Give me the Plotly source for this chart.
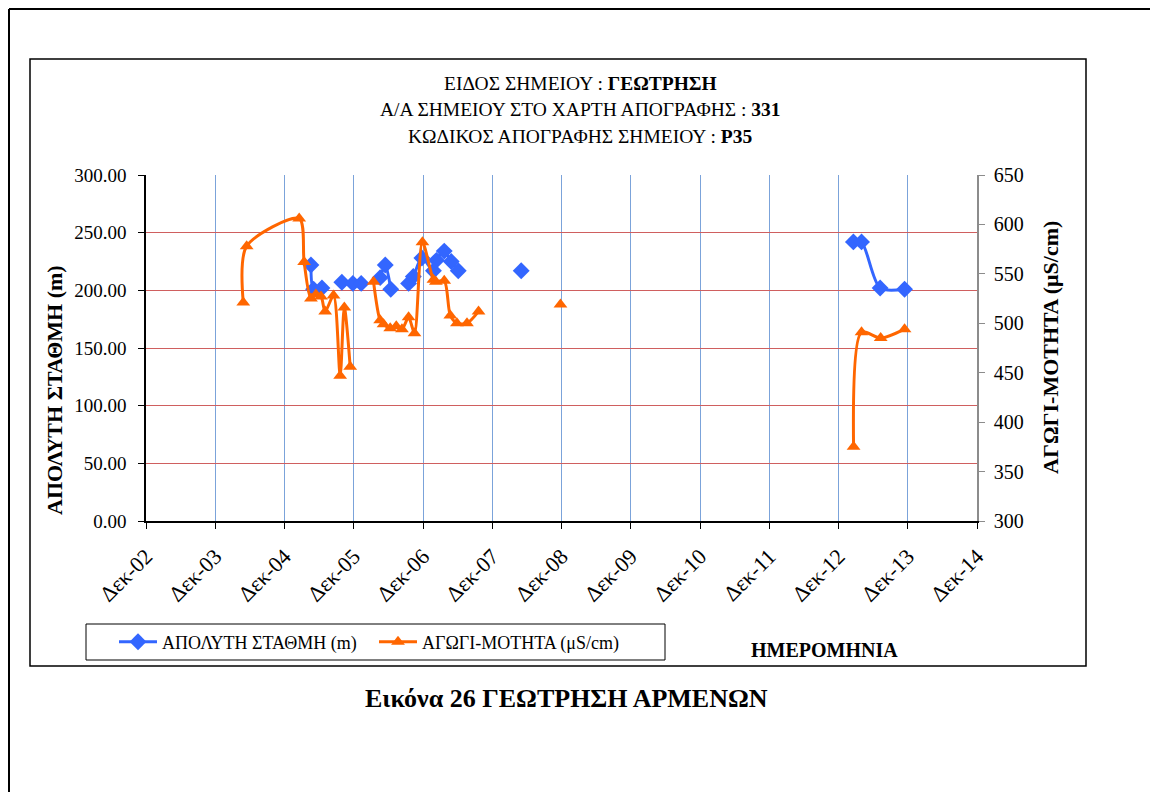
import plotly.graph_objects as go

OFF = 8  # page body margin the figure sits inside
W, H = 1158 - OFF, 792 - OFF
L, R, T, B = 146, 977, 175, 521  # plot area in window pixels

# ---- data ----
level_dates = [
    "2005-04-19", "2005-05-03", "2005-06-16", "2005-08-01",
    "2005-09-29", "2005-11-26", "2006-01-09", "2006-03-01",
    "2006-04-19", "2006-05-16", "2006-06-14", "2006-08-01",
    "2006-09-16", "2006-10-11", "2006-11-25", "2007-01-25", "2007-02-10",
    "2007-03-23", "2007-04-29", "2007-06-05", "2007-12-01",
    "2008-05-02", "2010-01-01",
    "2013-02-17", "2013-04-01", "2013-07-08", "2013-11-14",
]
level_m = [
    222, 201, 202, None,
    207, 206, 206, None,
    211, 222, 201, None,
    206, 212, 228, 217, 226,
    234, 225, 217, None,
    217, None,
    242, 242, 202, 201,
]

cond_dates = [
    "2004-04-27", "2004-05-15", "2005-02-16", "2005-03-14", "2005-04-19",
    "2005-05-15", "2005-06-11", "2005-07-03", "2005-08-16", "2005-09-20",
    "2005-10-12", "2005-11-12", "2006-01-15",
    "2006-03-15", "2006-04-19", "2006-05-07", "2006-06-11", "2006-07-13",
    "2006-08-12", "2006-09-16", "2006-10-17", "2006-11-28", "2007-01-25",
    "2007-02-07", "2007-03-23", "2007-04-24", "2007-05-29", "2007-07-21",
    "2007-09-20", "2008-03-01",
    "2008-11-25", "2010-01-01",
    "2013-02-18", "2013-04-01", "2013-07-11", "2013-11-14",
]
cond_us = [
    521, 578, 606, 562, 525,
    529, 527, 512, 528, 447,
    516, 456, None,
    542, 503, 499, 495, 497,
    494, 506, 490, 582, 544,
    542, 543, 508, 500, 500,
    512, None,
    519, None,
    375, 491, 485, 494,
]

tick_dates = ["2002-12-01", "2003-12-01", "2004-12-01", "2005-12-01", "2006-12-01",
              "2007-12-01", "2008-12-01", "2009-12-01", "2010-12-01", "2011-12-01",
              "2012-12-01", "2013-12-01", "2014-12-01"]
tick_labels = ["Δεκ-02", "Δεκ-03", "Δεκ-04", "Δεκ-05", "Δεκ-06", "Δεκ-07", "Δεκ-08",
               "Δεκ-09", "Δεκ-10", "Δεκ-11", "Δεκ-12", "Δεκ-13", "Δεκ-14"]

BLUE = "#3366FF"
ORANGE = "#FF6600"
FONT = "Liberation Serif"


def px(x):
    return (x - L) / (R - L)


def py(y):
    return (B - y) / (B - T)


fig = go.Figure()

fig.add_trace(go.Scatter(
    x=level_dates, y=level_m, name="ΑΠΟΛΥΤΗ ΣΤΑΘΜΗ (m)",
    mode="lines+markers", connectgaps=False,
    line=dict(color=BLUE, width=3, shape="spline", smoothing=0.8),
    marker=dict(symbol="diamond", size=13, color=BLUE),
))
fig.add_trace(go.Scatter(
    x=cond_dates, y=cond_us, name="ΑΓΩΓΙ-ΜΟΤΗΤΑ (μS/cm)", yaxis="y2",
    mode="lines+markers", connectgaps=False,
    line=dict(color=ORANGE, width=3, shape="spline", smoothing=0.8),
    marker=dict(symbol="triangle-up", size=12, color=ORANGE),
))

shapes = [
    # outer page frame
    dict(type="line", xref="paper", yref="paper", x0=px(9), x1=px(1170), y0=py(9), y1=py(9),
         line=dict(color="black", width=2)),
    dict(type="line", xref="paper", yref="paper", x0=px(9), x1=px(9), y0=py(9), y1=py(800),
         line=dict(color="black", width=2)),
    # chart frame
    dict(type="rect", xref="paper", yref="paper", x0=px(30), x1=px(1086), y0=py(59), y1=py(666),
         line=dict(color="black", width=1.5), layer="below"),
    # legend box
    dict(type="rect", xref="paper", yref="paper", x0=px(86), x1=px(665), y0=py(624), y1=py(660),
         line=dict(color="black", width=1)),
]


def note(text, x, y, size, angle=0):
    return dict(text=text, x=px(x), y=py(y), xref="paper", yref="paper",
                xanchor="center", yanchor="middle", textangle=angle, showarrow=False,
                font=dict(family=FONT, size=size, color="black"))


annotations = [
    note("ΕΙΔΟΣ ΣΗΜΕΙΟΥ : <b>ΓΕΩΤΡΗΣΗ</b>", 580, 84, 19.5),
    note("Α/Α ΣΗΜΕΙΟΥ ΣΤΟ ΧΑΡΤΗ ΑΠΟΓΡΑΦΗΣ : <b>331</b>", 580, 110, 19.5),
    note("ΚΩΔΙΚΟΣ ΑΠΟΓΡΑΦΗΣ ΣΗΜΕΙΟΥ : <b>P35</b>", 580, 136, 19.5),
    note("<b>ΑΠΟΛΥΤΗ ΣΤΑΘΜΗ (m)</b>", 54, 390, 22, -90),
    note("<b>ΑΓΩΓΙ-ΜΟΤΗΤΑ (μS/cm)</b>", 1050, 348, 22, -90),
    note("<b>ΗΜΕΡΟΜΗΝΙΑ</b>", 824, 650, 20),
    note("<b>Εικόνα 26 ΓΕΩΤΡΗΣΗ ΑΡΜΕΝΩΝ</b>", 566, 698, 26),
]

fig.update_layout(
    width=W, height=H, autosize=False,
    margin=dict(l=L - OFF, r=W - (R - OFF), t=T - OFF, b=H - (B - OFF), pad=0),
    paper_bgcolor="white", plot_bgcolor="white",
    font=dict(family=FONT, size=20, color="black"),
    showlegend=True,
    legend=dict(orientation="h", x=px(114), y=py(642), xanchor="left", yanchor="middle",
                bgcolor="rgba(0,0,0,0)", font=dict(family=FONT, size=18),
                entrywidth=207, itemwidth=38),
    xaxis=dict(
        type="date", range=["2002-12-01", "2014-12-01"],
        tickvals=tick_dates, ticktext=tick_labels, tickangle=-45,
        showgrid=True, gridcolor="#7BA3DA", gridwidth=1,
        showline=True, linecolor="black", linewidth=1.5,
        ticks="outside", ticklen=6, tickcolor="black",
        zeroline=False, tickfont=dict(size=22), ticklabelstandoff=6,
    ),
    yaxis=dict(
        range=[0, 300], dtick=50, tickformat=".2f",
        showgrid=True, gridcolor="#CF5F5F", gridwidth=1,
        showline=True, linecolor="black", linewidth=1.5,
        ticks="outside", ticklen=6, tickcolor="black",
        zeroline=False, tickfont=dict(size=19), ticklabelstandoff=8,
    ),
    yaxis2=dict(
        range=[300, 650], dtick=50, overlaying="y", side="right",
        showgrid=False, showline=True, linecolor="#8C8C8C", linewidth=1.5,
        ticks="outside", ticklen=6, tickcolor="#8C8C8C",
        zeroline=False, tickfont=dict(size=20), ticklabelstandoff=5,
    ),
    shapes=shapes,
    annotations=annotations,
)

fig.write_html("out.html")
